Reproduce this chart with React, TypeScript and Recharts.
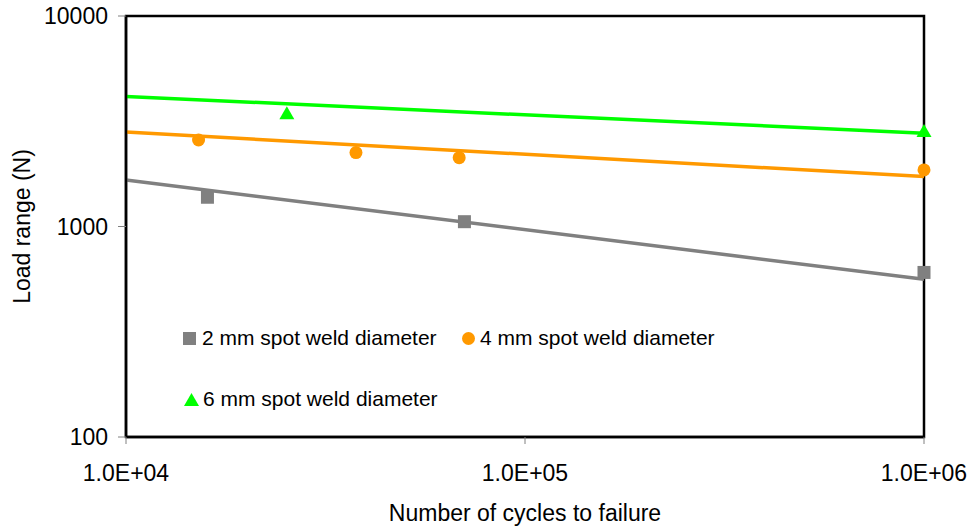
import { ComposedChart, Line, Scatter, XAxis, YAxis, Legend, ReferenceArea } from 'recharts'

// measured points (cycles, load range in N)
const cycles2mm = [16000, 70500, 1000000]
const load2mm = [1377, 1054, 605]
const cycles4mm = [15200, 37700, 68400, 1000000]
const load4mm = [2576, 2244, 2123, 1857]
const cycles6mm = [25300, 1000000]
const load6mm = [3467, 2855]

// power-law trendlines, read at the ends of the x range
const trendCycles = [10000, 1000000]
const trend2mm = [1664, 561]
const trend4mm = [2812, 1726]
const trend6mm = [4150, 2773]

const xTicks = [10000, 100000, 1000000]
const yTicks = [100, 1000, 10000]

const GRAY = '#808080'
const ORANGE = '#FF9900'
const GREEN = '#00FF00'
const FONT = 'Arial, "Liberation Sans", sans-serif'

const zip = (xs: number[], ys: number[]) => xs.map((x, i) => ({ x, y: ys[i] }))

const sciFormat = (v: number) => {
    const e = Math.round(Math.log10(v))
    const m = v / Math.pow(10, e)
    return `${m.toFixed(1)}E+${String(e).padStart(2, '0')}`
}

const SquareDot = (props: any) => {
    const { cx, cy } = props
    return <rect x={cx - 6.5} y={cy - 6.5} width={13} height={13} fill={GRAY} />
}

const CircleDot = (props: any) => {
    const { cx, cy } = props
    return <circle cx={cx} cy={cy} r={6.5} fill={ORANGE} />
}

const TriangleDot = (props: any) => {
    const { cx, cy } = props
    return <polygon points={`${cx - 7.5},${cy + 6.5} ${cx + 7.5},${cy + 6.5} ${cx},${cy - 6.5}`} fill={GREEN} />
}

const legendText = { fontSize: 21, color: '#000', fontFamily: FONT, whiteSpace: 'nowrap' as const }

const renderLegend = () => (
    <div style={{ position: 'relative', width: 600, height: 90 }}>
        <div style={{ position: 'absolute', left: 0, top: 0, height: 24, display: 'flex', alignItems: 'center' }}>
            <svg width={13} height={13} style={{ marginRight: 6 }}>
                <rect x={0} y={0} width={13} height={13} fill={GRAY} />
            </svg>
            <span style={legendText}>2 mm spot weld diameter</span>
        </div>
        <div style={{ position: 'absolute', left: 279, top: 0, height: 24, display: 'flex', alignItems: 'center' }}>
            <svg width={13} height={13} style={{ marginRight: 5 }}>
                <circle cx={6.5} cy={6.5} r={6.5} fill={ORANGE} />
            </svg>
            <span style={legendText}>4 mm spot weld diameter</span>
        </div>
        <div style={{ position: 'absolute', left: 1, top: 61, height: 24, display: 'flex', alignItems: 'center' }}>
            <svg width={15} height={13} style={{ marginRight: 4 }}>
                <polygon points="0,13 15,13 7.5,0" fill={GREEN} />
            </svg>
            <span style={legendText}>6 mm spot weld diameter</span>
        </div>
    </div>
)

const YLabel = (props: any) => {
    const { viewBox } = props
    const x = viewBox.x + 22
    const y = viewBox.y + viewBox.height / 2
    return (
        <text
            x={x}
            y={y}
            transform={`rotate(-90 ${x} ${y})`}
            textAnchor="middle"
            dominantBaseline="central"
            fontSize={23}
            fontFamily={FONT}
            fill="#000"
        >
            Load range (N)
        </text>
    )
}

export default function App() {
    return (
        <div style={{ position: 'absolute', left: 0, top: 0, background: '#fff' }}>
            <ComposedChart
                width={976}
                height={531}
                margin={{ top: 16, right: 52, bottom: 0, left: 0 }}
                style={{ fontFamily: FONT }}
            >
                <XAxis
                    dataKey="x"
                    type="number"
                    scale="log"
                    domain={[10000, 1000000]}
                    ticks={xTicks}
                    tickFormatter={sciFormat}
                    height={94}
                    tickSize={7}
                    tickMargin={21}
                    tick={{ fill: '#000', fontSize: 23 }}
                    axisLine={{ stroke: '#000', strokeWidth: 2.5 }}
                    tickLine={{ stroke: GRAY }}
                    label={{ value: 'Number of cycles to failure', position: 'insideBottom', offset: 10, fill: '#000', fontSize: 23 }}
                />
                <YAxis
                    dataKey="y"
                    type="number"
                    scale="log"
                    domain={[100, 10000]}
                    ticks={yTicks}
                    width={126}
                    tickSize={8}
                    tickMargin={10}
                    tick={{ fill: '#000', fontSize: 23 }}
                    axisLine={{ stroke: '#000', strokeWidth: 2.5 }}
                    tickLine={{ stroke: GRAY }}
                    label={{ content: YLabel }}
                />
                <ReferenceArea x1={10000} x2={1000000} y1={100} y2={10000} fill="none" stroke="#000" strokeWidth={2.5} />
                <Line data={zip(trendCycles, trend6mm)} dataKey="y" type="linear" stroke={GREEN} strokeWidth={3.5} dot={false} isAnimationActive={false} legendType="none" />
                <Line data={zip(trendCycles, trend4mm)} dataKey="y" type="linear" stroke={ORANGE} strokeWidth={3.5} dot={false} isAnimationActive={false} legendType="none" />
                <Line data={zip(trendCycles, trend2mm)} dataKey="y" type="linear" stroke={GRAY} strokeWidth={3.5} dot={false} isAnimationActive={false} legendType="none" />
                <Scatter name="2 mm spot weld diameter" data={zip(cycles2mm, load2mm)} fill={GRAY} shape={SquareDot} isAnimationActive={false} />
                <Scatter name="4 mm spot weld diameter" data={zip(cycles4mm, load4mm)} fill={ORANGE} shape={CircleDot} isAnimationActive={false} />
                <Scatter name="6 mm spot weld diameter" data={zip(cycles6mm, load6mm)} fill={GREEN} shape={TriangleDot} isAnimationActive={false} />
                <Legend
                    verticalAlign="middle"
                    layout="horizontal"
                    align="center"
                    wrapperStyle={{ left: 183, top: 326, width: 600, height: 90 }}
                    content={renderLegend}
                />
            </ComposedChart>
        </div>
    )
}
